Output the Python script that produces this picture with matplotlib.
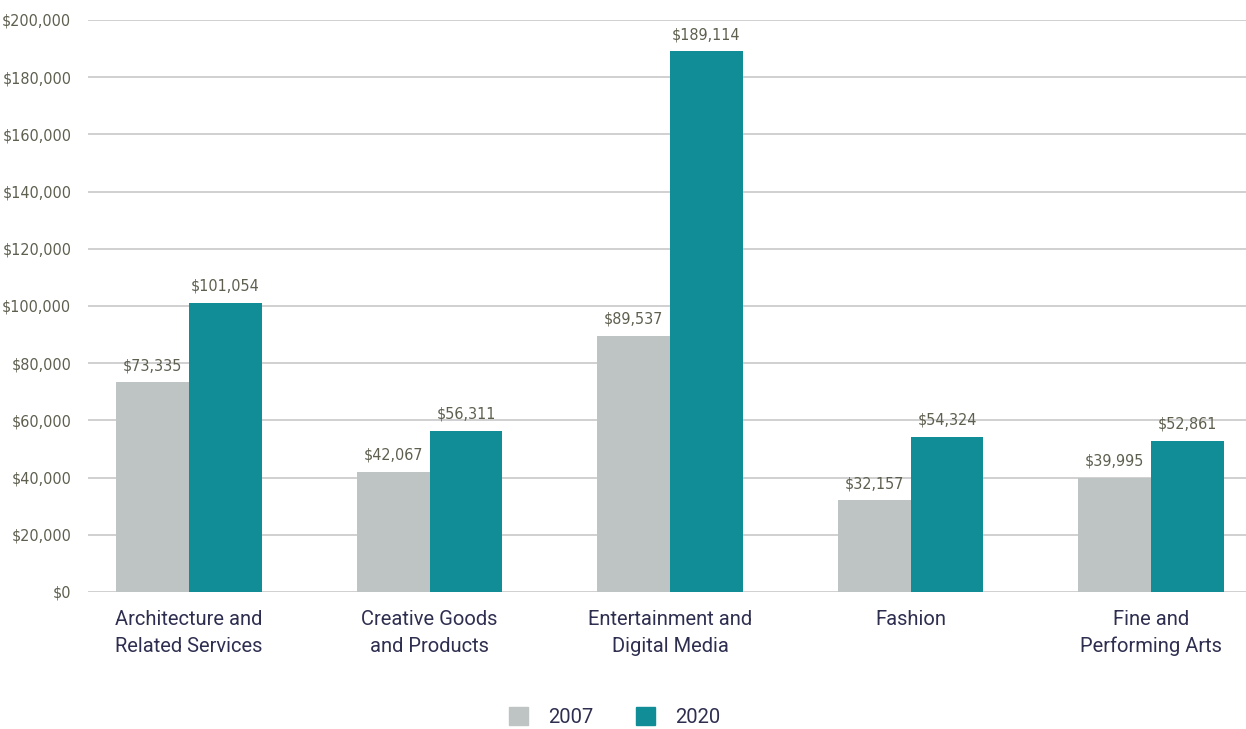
import matplotlib
matplotlib.use("Agg")
import matplotlib.pyplot as plt
import numpy as np
from matplotlib.ticker import FuncFormatter
from matplotlib.patches import Patch

categories = ["Architecture and\nRelated Services", "Creative Goods\nand Products",
              "Entertainment and\nDigital Media", "Fashion", "Fine and\nPerforming Arts"]
values_2007 = [73335, 42067, 89537, 32157, 39995]
values_2020 = [101054, 56311, 189114, 54324, 52861]
series_names = ["2007", "2020"]

c2007 = "#bec3c3"
c2020 = "#118d98"
tick_color = "#5f5f50"
cat_color = "#2e2e50"

fig = plt.figure(figsize=(12.46, 7.29), dpi=100)
ax = fig.add_axes([88/1246, 1-592/729, 1-88/1246, (592-20)/729])

x = np.arange(len(categories))
w = 0.303
b1 = ax.bar(x - w/2, values_2007, w, color=c2007, zorder=3)
b2 = ax.bar(x + w/2, values_2020, w, color=c2020, zorder=3)

for bars, vals in ((b1, values_2007), (b2, values_2020)):
    for r, v in zip(bars, vals):
        ax.annotate(f"${v:,}", (r.get_x() + r.get_width()/2, v), xytext=(0, 6.5),
                    textcoords="offset points", ha="center", va="bottom",
                    fontsize=11.5, color=tick_color, family="DejaVu Sans",
                    fontstretch="condensed")

ax.set_xlim(-0.42, 4.395)
ax.set_ylim(0, 200000)
ax.set_yticks(np.arange(0, 200001, 20000))
ax.yaxis.set_major_formatter(FuncFormatter(lambda v, p: f"${int(v):,}"))
ax.grid(axis="y", color="#c8c8c8", linewidth=1.2, zorder=0)
ax.tick_params(axis="y", length=0, pad=12, labelsize=11.5, labelcolor=tick_color)
for lbl in ax.get_yticklabels():
    lbl.set_family("DejaVu Sans")
    lbl.set_fontstretch("condensed")
ax.set_xticks(x)
ax.set_xticklabels(categories, fontsize=14.5, color=cat_color, linespacing=1.5,
                   family="Roboto")
ax.tick_params(axis="x", length=0, pad=13)
for s in ax.spines.values():
    s.set_visible(False)

handles = [Patch(color=c2007, label=series_names[0]), Patch(color=c2020, label=series_names[1])]
leg = fig.legend(handles=handles, loc="center", bbox_to_anchor=(0.5 - 8/1246, 1-717/729), ncol=2,
                 frameon=False, prop={"family": "Roboto", "size": 14.5},
                 handlelength=0.95, handleheight=0.95,
                 columnspacing=2.1, handletextpad=1.0)
for t in leg.get_texts():
    t.set_color(cat_color)

fig.savefig("out.png", dpi=100)
